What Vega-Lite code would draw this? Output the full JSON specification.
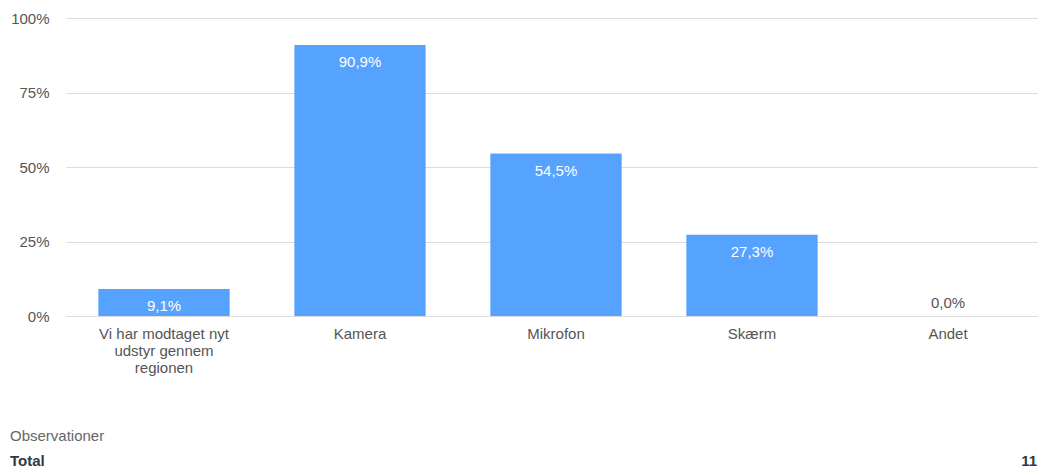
{
  "$schema": "https://vega.github.io/schema/vega-lite/v6.json",
  "padding": {"left": 10, "top": 11, "right": 0, "bottom": 0},
  "background": "white",
  "spacing": 54,
  "config": {
    "view": {"stroke": null},
    "font": "Liberation Sans",
    "locale": {"number": {"decimal": ",", "thousands": ".", "grouping": [3], "currency": ["", " kr"]}}
  },
  "datasets": {
    "bars": [
      {"kategori": "Vi har modtaget nyt udstyr gennem regionen", "andel": 0.091},
      {"kategori": "Kamera", "andel": 0.909},
      {"kategori": "Mikrofon", "andel": 0.545},
      {"kategori": "Skærm", "andel": 0.273},
      {"kategori": "Andet", "andel": 0.0}
    ],
    "summary": [
      {"raekke": "Observationer", "kolonne": "label", "tekst": "Observationer"},
      {"raekke": "Total", "kolonne": "label", "tekst": "Total"},
      {"raekke": "Total", "kolonne": "vaerdi", "tekst": "11"}
    ]
  },
  "vconcat": [
    {
      "width": 980,
      "height": 298,
      "data": {"name": "bars"},
      "encoding": {
        "x": {
          "field": "kategori",
          "type": "nominal",
          "sort": null,
          "scale": {"paddingInner": 0.33, "paddingOuter": 0.165},
          "axis": {
            "title": null,
            "labelAngle": 0,
            "ticks": false,
            "domain": false,
            "labelFontSize": 15,
            "labelColor": "#555555",
            "labelPadding": 10,
            "labelLineHeight": 17,
            "labelBaseline": "top",
            "labelLimit": 300,
            "labelExpr": "datum.label == 'Vi har modtaget nyt udstyr gennem regionen' ? ['Vi har modtaget nyt', 'udstyr gennem', 'regionen'] : datum.label"
          }
        },
        "y": {
          "field": "andel",
          "type": "quantitative",
          "scale": {"domain": [0, 1]},
          "axis": {
            "title": null,
            "values": [0, 0.25, 0.5, 0.75, 1],
            "format": ".0%",
            "ticks": false,
            "domain": false,
            "labelFontSize": 15,
            "labelColor": "#555555",
            "labelPadding": 17,
            "gridColor": "#dddddd",
            "gridWidth": 1
          }
        }
      },
      "layer": [
        {"mark": {"type": "bar", "color": "#56a3ff"}},
        {
          "transform": [{"filter": "datum.andel > 0"}],
          "mark": {"type": "text", "color": "white", "fontSize": 15, "baseline": "middle", "dy": 17},
          "encoding": {"text": {"field": "andel", "type": "quantitative", "format": ".1%"}}
        },
        {
          "transform": [{"filter": "datum.andel == 0"}],
          "mark": {"type": "text", "color": "#555555", "fontSize": 15, "baseline": "middle", "dy": -13},
          "encoding": {"text": {"field": "andel", "type": "quantitative", "format": ".1%"}}
        }
      ]
    },
    {
      "width": 980,
      "height": 25,
      "data": {"name": "summary"},
      "encoding": {
        "x": {"field": "kolonne", "type": "nominal", "scale": {"type": "point", "padding": 0, "domain": ["label", "vaerdi"], "range": [-56, 971]}, "axis": null},
        "y": {"field": "raekke", "type": "nominal", "scale": {"type": "point", "padding": 0, "domain": ["Observationer", "Total"]}, "axis": null},
        "text": {"field": "tekst", "type": "nominal"}
      },
      "layer": [
        {
          "transform": [{"filter": "datum.raekke == 'Observationer'"}],
          "mark": {"type": "text", "align": "left", "baseline": "middle", "fontSize": 15, "color": "#666666"}
        },
        {
          "transform": [{"filter": "datum.raekke == 'Total' && datum.kolonne == 'label'"}],
          "mark": {"type": "text", "align": "left", "baseline": "middle", "fontSize": 15, "fontWeight": "bold", "color": "#2e3a48"}
        },
        {
          "transform": [{"filter": "datum.kolonne == 'vaerdi'"}],
          "mark": {"type": "text", "align": "right", "baseline": "middle", "fontSize": 15, "fontWeight": "bold", "color": "#2e3a48"}
        }
      ]
    }
  ]
}
